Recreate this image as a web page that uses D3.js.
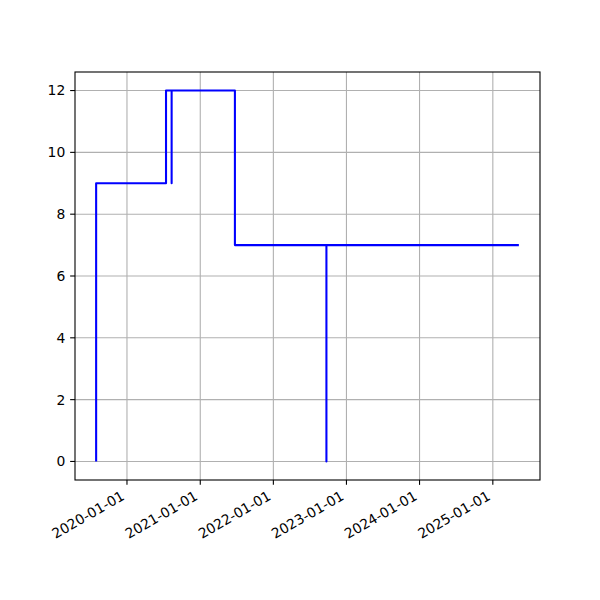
<!DOCTYPE html>
<html><head><meta charset="utf-8">
<script src="https://cdn.jsdelivr.net/npm/d3@7"></script>
<style>body{margin:0;background:#fff}text{font-family:"DejaVu Sans",sans-serif;font-size:13.9px;fill:#000}</style>
</head><body>
<script>
const dates = ["2019-07-31","2019-07-31","2020-07-14","2020-08-11","2020-08-11","2021-06-23","2022-09-23","2022-09-23","2025-05-11"];
const values = [0, 9, 12, 9, 12, 7, 0, 7, 7];
const xTickLabels = ["2020-01-01","2021-01-01","2022-01-01","2023-01-01","2024-01-01","2025-01-01"];
const yTicks = [0, 2, 4, 6, 8, 10, 12];

const W = 600, H = 600;
const L = 75, R = 540, T = 72, B = 480;
const TL = 4.86, PAD = 4.86;
const parse = d3.utcParse("%Y-%m-%d");
const pts = dates.map((d, i) => ({t: parse(d), v: values[i]}));

const [t0, t1] = d3.extent(pts, d => d.t);
const pad = (t1 - t0) * 0.05;
const x = d3.scaleUtc().domain([new Date(+t0 - pad), new Date(+t1 + pad)]).range([L, R]);
const vmax = d3.max(values), vmin = d3.min(values);
const vp = (vmax - vmin) * 0.05;
const y = d3.scaleLinear().domain([vmin - vp, vmax + vp]).range([B, T]);

const svg = d3.select("body").append("svg").attr("width", W).attr("height", H);
const g = svg.append("g");

const xt = xTickLabels.map(parse);
// grid
g.selectAll(".gx").data(xt).join("line")
  .attr("x1", d => x(d)).attr("x2", d => x(d)).attr("y1", T).attr("y2", B)
  .attr("stroke", "#b0b0b0").attr("stroke-width", 1.1);
g.selectAll(".gy").data(yTicks).join("line")
  .attr("y1", d => y(d)).attr("y2", d => y(d)).attr("x1", L).attr("x2", R)
  .attr("stroke", "#b0b0b0").attr("stroke-width", 1.1);

// line
const line = d3.line().x(d => x(d.t)).y(d => y(d.v)).curve(d3.curveStepAfter);
g.append("path").datum(pts).attr("d", line).attr("fill", "none")
  .attr("stroke", "#0000ff").attr("stroke-width", 2.08).attr("stroke-linejoin", "round").attr("stroke-linecap", "butt");

// frame
g.append("rect").attr("x", L).attr("y", T).attr("width", R - L).attr("height", B - T)
  .attr("fill", "none").attr("stroke", "#000").attr("stroke-width", 1.1);

// x ticks
g.selectAll(".tx").data(xt).join("line")
  .attr("x1", d => x(d)).attr("x2", d => x(d)).attr("y1", B).attr("y2", B + TL)
  .attr("stroke", "#000").attr("stroke-width", 1.1);
g.selectAll(".lx").data(xt).join("text")
  .attr("transform", (d) => `translate(${x(d) - 1.5},${B + TL + PAD + 9}) rotate(-30)`)
  .attr("text-anchor", "end")
  .text((d, i) => xTickLabels[i]);

// y ticks
g.selectAll(".ty").data(yTicks).join("line")
  .attr("y1", d => y(d)).attr("y2", d => y(d)).attr("x1", L - TL).attr("x2", L)
  .attr("stroke", "#000").attr("stroke-width", 1.1);
g.selectAll(".ly").data(yTicks).join("text")
  .attr("x", L - TL - PAD).attr("y", d => y(d)).attr("dy", "0.35em")
  .attr("text-anchor", "end").text(d => d);
</script>
</body></html>
